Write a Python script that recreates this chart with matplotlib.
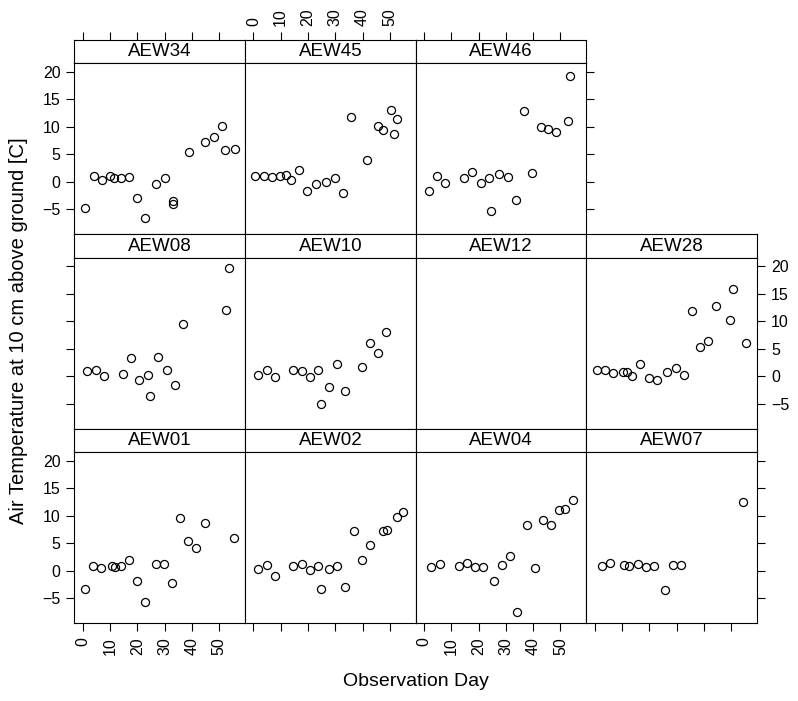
import matplotlib
matplotlib.use("Agg")
import matplotlib.pyplot as plt

# data: observation day and air temperature for each site
aew34_day = [1, 4, 7, 10, 11.5, 14, 17, 20, 23, 27, 30, 33, 33, 39, 45, 48, 51, 52, 56]
aew34_temp = [-4.8, 1.0, 0.3, 1.0, 0.7, 0.75, 0.9, -3.0, -6.5, -0.4, 0.7, -3.55, -4.05, 5.4, 7.3, 8.15, 10.1, 5.7, 5.9]

aew45_day = [0.6, 3.8, 6.7, 9.7, 11.8, 13.8, 16.7, 19.7, 22.8, 26.6, 29.8, 32.8, 35.7, 41.6, 45.5, 47.6, 50.6, 51.4, 52.6]
aew45_temp = [1.0, 1.0, 0.8, 1.05, 1.15, 0.3, 2.15, -1.7, -0.45, -0.1, 0.6, -2.0, 11.8, 4.0, 10.1, 9.4, 13.1, 8.75, 11.35]

aew46_day = [1.8, 4.8, 7.8, 14.7, 17.6, 20.7, 23.6, 24.6, 27.5, 30.6, 33.8, 36.7, 39.6, 42.7, 45.6, 48.5, 52.7, 53.5]
aew46_temp = [-1.6, 1.0, -0.15, 0.75, 1.8, -0.3, 0.6, -5.35, 1.47, 0.9, -3.4, 12.9, 1.55, 9.95, 9.6, 9.05, 11.0, 19.2]

aew08_day = [1.7, 4.9, 7.8, 14.6, 17.7, 20.6, 23.8, 24.6, 27.7, 30.8, 33.7, 36.7, 52.5, 53.7]
aew08_temp = [0.9, 1.05, 0.0, 0.5, 3.3, -0.6, 0.2, -3.5, 3.55, 1.2, -1.5, 9.5, 12.0, 19.6]

aew10_day = [1.8, 4.9, 7.8, 14.6, 17.8, 20.7, 23.8, 24.6, 27.7, 30.7, 33.7, 39.8, 42.8, 45.7, 48.6]
aew10_temp = [0.3, 1.2, -0.1, 1.1, 1.0, -0.05, 1.1, -5.0, -1.9, 2.15, -2.6, 1.6, 6.1, 4.15, 8.0]

aew12_day = []
aew12_temp = []

aew28_day = [0.7, 3.7, 6.7, 10.4, 11.7, 13.7, 16.6, 19.7, 22.8, 26.5, 29.7, 32.8, 35.8, 38.6, 41.6, 44.6, 49.6, 50.6, 55.6]
aew28_temp = [1.2, 1.2, 0.6, 0.85, 0.7, 0.0, 2.3, -0.25, -0.6, 0.8, 1.5, 0.3, 11.9, 5.3, 6.5, 12.8, 10.2, 15.9, 6.0]

aew01_day = [0.7, 3.6, 6.7, 10.6, 11.8, 13.9, 16.8, 19.8, 22.8, 26.7, 29.8, 32.8, 35.6, 38.7, 41.6, 44.7, 55.5]
aew01_temp = [-3.3, 0.8, 0.5, 0.93, 0.75, 0.85, 1.96, -1.85, -5.7, 1.3, 1.3, -2.3, 9.6, 5.4, 4.1, 8.6, 5.9]

aew02_day = [1.8, 4.9, 7.8, 14.6, 17.8, 20.7, 23.8, 24.6, 27.7, 30.7, 33.7, 36.7, 39.8, 42.8, 47.6, 48.8, 52.6, 54.7]
aew02_temp = [0.4, 1.05, -0.9, 0.8, 1.3, 0.1, 0.8, -3.4, 0.25, 0.93, -2.95, 7.2, 1.9, 4.6, 7.2, 7.5, 9.8, 10.6]

aew04_day = [2.6, 5.8, 12.6, 15.7, 18.7, 21.7, 25.7, 28.6, 31.6, 34.0, 37.6, 40.6, 43.6, 46.6, 49.6, 51.6, 54.6]
aew04_temp = [0.7, 1.24, 0.93, 1.4, 0.7, 0.7, -1.9, 1.0, 2.75, -7.5, 8.3, 0.5, 9.2, 8.4, 11.0, 11.3, 12.9]

aew07_day = [2.6, 5.7, 10.6, 12.6, 15.7, 18.6, 21.7, 25.7, 28.7, 31.7, 54.5]
aew07_temp = [0.87, 1.35, 1.1, 0.87, 1.2, 0.6, 0.8, -3.5, 1.1, 1.0, 12.5]

# panel grid (row, col) -> site
panels = [
    (0, 0, "AEW34", aew34_day, aew34_temp),
    (0, 1, "AEW45", aew45_day, aew45_temp),
    (0, 2, "AEW46", aew46_day, aew46_temp),
    (1, 0, "AEW08", aew08_day, aew08_temp),
    (1, 1, "AEW10", aew10_day, aew10_temp),
    (1, 2, "AEW12", aew12_day, aew12_temp),
    (1, 3, "AEW28", aew28_day, aew28_temp),
    (2, 0, "AEW01", aew01_day, aew01_temp),
    (2, 1, "AEW02", aew02_day, aew02_temp),
    (2, 2, "AEW04", aew04_day, aew04_temp),
    (2, 3, "AEW07", aew07_day, aew07_temp),
]
x_ticks = [0, 10, 20, 30, 40, 50]
y_ticks = [-5, 0, 5, 10, 15, 20]
x_lim = (-3.1, 59.5)
y_lim = (-9.5, 21.6)

plt.rcParams["font.family"] = ["Liberation Sans", "DejaVu Sans"]

W, H = 798, 701
fig = plt.figure(figsize=(W / 100, H / 100), dpi=100)

# layout in pixels
col_left = [74.3, 245.0, 415.7, 586.4]
col_w = 170.7
row_top = [39.5, 234.0, 428.5]
strip_h = 23.5
panel_h = 171.0

tick_kw = dict(direction="out", length=6, width=0.8, labelsize=11.5, pad=4)

for r, c, name, days, temps in panels:
    x0 = col_left[c]
    y_strip = row_top[r]
    y_panel = y_strip + strip_h
    # strip (top ticks of the first row sit above the strip, like lattice)
    axs = fig.add_axes([x0 / W, 1 - (y_strip + strip_h) / H, col_w / W, strip_h / H])
    axs.set_xlim(*x_lim)
    axs.set_yticks([])
    for sp in axs.spines.values():
        sp.set_linewidth(0.8)
    if r == 0:
        axs.set_xticks(x_ticks)
        axs.tick_params(axis="x", **tick_kw)
        axs.tick_params(axis="x", bottom=False, labelbottom=False, top=True,
                        labeltop=(c == 1), labelrotation=90)
    else:
        axs.set_xticks([])
    axs.text(0.5, 0.47, name, ha="center", va="center", fontsize=13.5, transform=axs.transAxes)

    # panel
    ax = fig.add_axes([x0 / W, 1 - (y_panel + panel_h) / H, col_w / W, panel_h / H])
    ax.plot(days, temps, linestyle="none", marker="o", markersize=5.8,
            markerfacecolor="none", markeredgecolor="black", markeredgewidth=0.9)
    ax.set_xlim(*x_lim)
    ax.set_ylim(*y_lim)
    ax.set_xticks(x_ticks)
    ax.set_yticks(y_ticks)
    for sp in ax.spines.values():
        sp.set_linewidth(0.8)

    last_in_row = (r == 0 and c == 2) or c == 3
    ax.tick_params(axis="both", **tick_kw)
    ax.tick_params(axis="x", bottom=(r == 2), labelbottom=(r == 2 and c in (0, 2)),
                   top=False, labeltop=False, labelrotation=90)
    ax.tick_params(axis="y", left=(c == 0), labelleft=(c == 0 and r in (0, 2)),
                   right=last_in_row, labelright=(r == 1 and c == 3))

# axis titles
fig.text(19 / W, 1 - 331 / H, "Air Temperature at 10 cm above ground [C]",
         rotation=90, ha="center", va="center", fontsize=14.5)
fig.text(415.7 / W, 1 - 681 / H, "Observation Day", ha="center", va="center", fontsize=14)

plt.savefig("out.png", dpi=100)
